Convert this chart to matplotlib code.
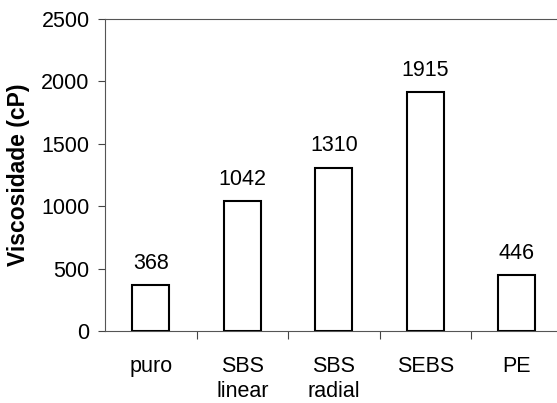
import matplotlib
matplotlib.use("Agg")
import matplotlib.pyplot as plt
import numpy as np

categories = ["puro", "SBS\nlinear", "SBS\nradial", "SEBS", "PE"]
viscosity = [368, 1042, 1310, 1915, 446]
yticks = [0, 500, 1000, 1500, 2000, 2500]

plt.rcParams["font.family"] = ["Liberation Sans", "DejaVu Sans"]

fig = plt.figure(figsize=(5.57, 4.03), dpi=100)
ax = fig.add_axes([105 / 557, 1 - 331 / 403, 457.5 / 557, 312 / 403])

x = np.arange(len(categories))
ax.bar(x, viscosity, width=0.4, color="white", edgecolor="black", linewidth=1.5, zorder=3)

for xi, v in zip(x, viscosity):
    ax.annotate(str(v), (xi, v), xytext=(0, 8), textcoords="offset points",
                ha="center", va="bottom", fontsize=15.5)

ax.set_xlim(-0.5, len(categories) - 0.5)
ax.set_ylim(0, 2500)
ax.set_yticks(yticks)
ax.tick_params(axis="y", labelsize=15.5, length=5, width=0.8, color="#444444", pad=6)

ax.set_xticks(x)
ax.set_xticklabels(categories, fontsize=15.5, linespacing=1.25)
ax.tick_params(axis="x", which="major", length=0, pad=18)
ax.set_xticks(np.arange(len(categories)) + 0.5, minor=True)
ax.tick_params(axis="x", which="minor", length=6, width=0.8, color="#444444", direction="out")

for side in ["left", "bottom", "top"]:
    ax.spines[side].set_color("#555555")
    ax.spines[side].set_linewidth(0.8)
ax.spines["right"].set_visible(False)

ax.set_ylabel("Viscosidade (cP)", fontsize=16.5, fontweight="bold", labelpad=8)

fig.savefig("out.png", dpi=100)
